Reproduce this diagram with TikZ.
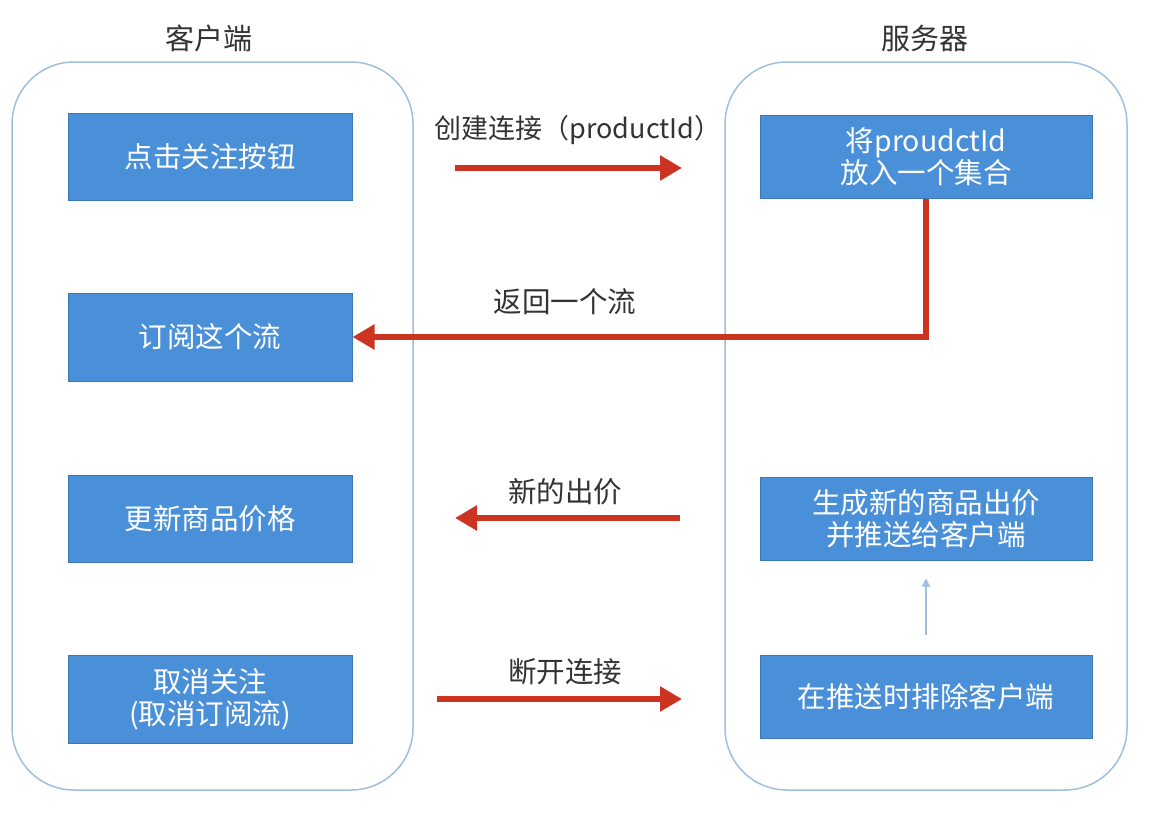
\documentclass[tikz,border=0pt]{standalone}
\usepackage{fontspec}
\setmainfont{Noto Sans CJK SC}
\usetikzlibrary{arrows.meta}
\definecolor{boxblue}{HTML}{4A90D9}
\definecolor{boxedge}{HTML}{3C78B8}
\definecolor{laneedge}{HTML}{9DBFE0}
\definecolor{flowred}{HTML}{CC3320}
\definecolor{labelgray}{HTML}{333333}
\begin{document}
\begin{tikzpicture}[x=1pt,y=-1pt,
  lane/.style={draw=laneedge,line width=1.5pt,rounded corners=62pt},
  stepbox/.style={draw=boxedge,line width=1pt,fill=boxblue,text=white,
    font=\fontsize{28.5}{32}\selectfont,align=center,inner sep=0pt},
  title/.style={text=labelgray,font=\fontsize{29}{32}\selectfont},
  flowlabel/.style={text=labelgray,font=\fontsize{28.5}{32}\selectfont},
  flow/.style={draw=flowred,line width=6pt,-{Triangle[length=22pt,width=24pt]}},
  thinflow/.style={draw=laneedge,line width=1.2pt,-{Triangle[length=8pt,width=8pt]}}]
\useasboundingbox (0,0) rectangle (1157,814);

% two swim lanes
\draw[lane] (12,62) rectangle (413,790);
\draw[lane] (725,62) rectangle (1127,790);
\node[title] (tclient) at (209,38) {客户端};
\node[title] (tserver) at (925,38) {服务器};

% client steps
\node[stepbox,minimum width=284pt,minimum height=87pt] (l1) at (210,156.5) {点击关注按钮};
\node[stepbox,minimum width=284pt,minimum height=88pt] (l2) at (210,337) {订阅这个流};
\node[stepbox,minimum width=284pt,minimum height=87pt] (l3) at (210,518.5) {更新商品价格};
\node[stepbox,minimum width=284pt,minimum height=88pt] (l4) at (210,699) {取消关注\\(取消订阅流)};

% server steps
\node[stepbox,minimum width=332pt,minimum height=83pt] (r1) at (926,156.5) {将proudctId\\放入一个集合};
\node[stepbox,minimum width=332pt,minimum height=83pt] (r2) at (926,518.5) {生成新的商品出价\\并推送给客户端};
\node[stepbox,minimum width=332pt,minimum height=83pt] (r3) at (926,696.5) {在推送时排除客户端};

% messages between client and server
\coordinate (a1s) at (455,168);
\coordinate (a1e) at (682,168);
\draw[flow] (a1s) -- (a1e);
\node[flowlabel,font=\fontsize{27}{32}\selectfont] (m1) at (578,130) {创建连接（productId）};

\draw[flow,rounded corners=0pt] (r1.south) |- (l2.east);
\node[flowlabel] (m2) at (565,302) {返回一个流};

\coordinate (a3s) at (680,518);
\coordinate (a3e) at (455,518);
\draw[flow] (a3s) -- (a3e);
\node[flowlabel] (m3) at (565,492) {新的出价};

\coordinate (a4s) at (437,699);
\coordinate (a4e) at (682,699);
\draw[flow] (a4s) -- (a4e);
\node[flowlabel] (m4) at (565,672) {断开连接};

% internal server step
\draw[thinflow,shorten <=20pt,shorten >=18pt] (r3.north) -- (r2.south);
\end{tikzpicture}
\end{document}
